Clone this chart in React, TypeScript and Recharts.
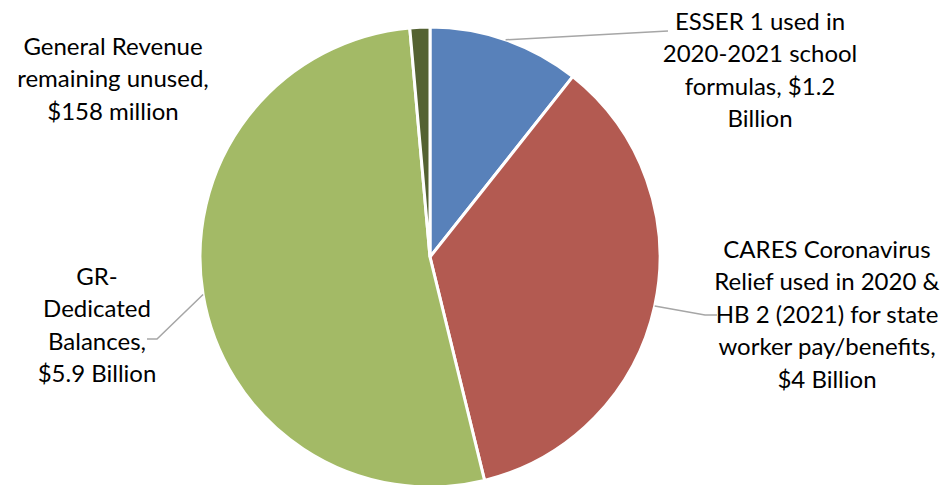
import React from "react";
import { PieChart, Pie, Cell } from "recharts";

const categories = [
  "ESSER 1 used in 2020-2021 school formulas",
  "CARES Coronavirus Relief used in 2020 & HB 2 (2021) for state worker pay/benefits",
  "GR-Dedicated Balances",
  "General Revenue remaining unused",
];
const valuesBillion = [1.2, 4, 5.9, 0.158];
const labelLines = [
  ["ESSER 1 used in", "2020-2021 school", "formulas, $1.2", "Billion"],
  ["CARES Coronavirus", "Relief used in 2020 &", "HB 2 (2021) for state", "worker pay/benefits,", "$4 Billion"],
  ["GR-", "Dedicated", "Balances,", "$5.9 Billion"],
  ["General Revenue", "remaining unused,", "$158 million"],
];
const colors = ["#5881BA", "#B35A51", "#A3BA66", "#546232"];

const data = categories.map((name, i) => ({ name, value: valuesBillion[i] }));

// label layout (text centre x, first line centre y, leader line bend points)
const LAYOUT = [
  { x: 760, y: 20, leader: [[668, 31]] },
  { x: 827, y: 248, leader: [[705, 315], [717, 315]] },
  { x: 97, y: 275, leader: [[157, 339], [147, 339]] },
  { x: 113, y: 45, leader: [] as number[][] },
];
const LINE_H = 32.5;
const RAD = Math.PI / 180;

const renderLabel = (props: any) => {
  const { cx, cy, midAngle, outerRadius, index } = props;
  const L = LAYOUT[index];
  const ax = cx + outerRadius * Math.cos(-midAngle * RAD);
  const ay = cy + outerRadius * Math.sin(-midAngle * RAD);
  const pts = [[ax, ay], ...L.leader];
  return (
    <g key={`lbl-${index}`}>
      {L.leader.length > 0 && (
        <polyline
          points={pts.map((p) => p.join(",")).join(" ")}
          fill="none"
          stroke="#A6A6A6"
          strokeWidth={1.5}
        />
      )}
      <text
        x={L.x}
        y={L.y}
        textAnchor="middle"
        fill="#000"
        style={{ fontFamily: "Lato, 'Open Sans', sans-serif", fontSize: 24 }}
      >
        {labelLines[index].map((t, j) => (
          <tspan key={j} x={L.x} y={L.y + j * LINE_H} dominantBaseline="central">
            {t}
          </tspan>
        ))}
      </text>
    </g>
  );
};

export default function App() {
  return (
    <div style={{ position: "absolute", left: 0, top: 0, background: "#fff" }}>
      <PieChart width={946} height={485} margin={{ top: 0, right: 0, bottom: 0, left: 0 }}>
        <Pie
          data={data}
          dataKey="value"
          nameKey="name"
          cx={430}
          cy={257}
          outerRadius={230}
          startAngle={90}
          endAngle={-270}
          stroke="#fff"
          strokeWidth={3}
          label={renderLabel}
          labelLine={false}
          isAnimationActive={false}
        >
          {data.map((d, i) => (
            <Cell key={d.name} fill={colors[i]} />
          ))}
        </Pie>
      </PieChart>
    </div>
  );
}
